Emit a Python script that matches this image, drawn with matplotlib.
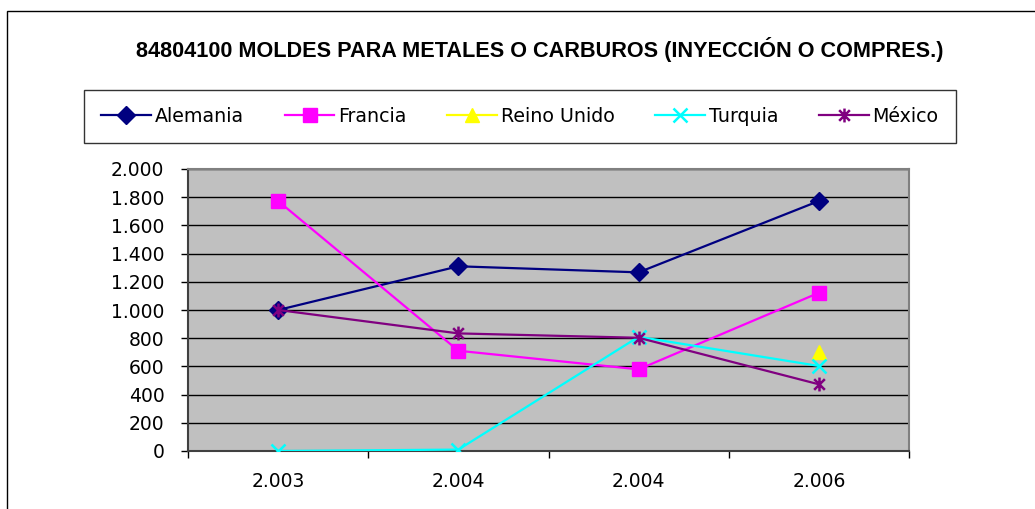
import numpy as np
import matplotlib
matplotlib.use('Agg')
import matplotlib.pyplot as plt
from matplotlib.path import Path
from matplotlib.patches import Rectangle
from matplotlib.ticker import FuncFormatter, FixedLocator

plt.rcParams["font.family"] = ["DejaVu Sans"]

# datos
categorias = ["2.003", "2.004", "2.004", "2.006"]
alemania = [1000, 1310, 1267, 1773]
francia = [1773, 711, 579, 1122]
reino_unido = [np.nan, np.nan, np.nan, 703]
turquia = [0, 10, 810, 603]
mexico = [1000, 834, 803, 473]

titulo = "84804100 MOLDES PARA METALES O CARBUROS (INYECCIÓN O COMPRES.)"

# marcador estrella tipo Excel (x con línea vertical)
star = Path([(-1, -1), (1, 1), (-1, 1), (1, -1), (0, -1.3), (0, 1.3)],
            [Path.MOVETO, Path.LINETO, Path.MOVETO, Path.LINETO, Path.MOVETO, Path.LINETO])

series = [
    ("Alemania", alemania, "#000080", "D", 9),
    ("Francia", francia, "#FF00FF", "s", 10),
    ("Reino Unido", reino_unido, "#FFFF00", "^", 10),
    ("Turquia", turquia, "#00FFFF", "x", 10),
    ("México", mexico, "#800080", star, 10),
]

W, H = 1035, 509
fig = plt.figure(figsize=(W / 100, H / 100), dpi=100)
ax = fig.add_axes([188 / W, 1 - 451 / H, (909 - 188) / W, (451 - 169) / H])
ax.set_facecolor("#C0C0C0")

x = np.arange(len(categorias))
handles = []
for nombre, vals, color, mk, ms in series:
    mew = 1.8 if mk in ("x",) or mk is star else 1
    h, = ax.plot(x, vals, color=color, lw=1.6, marker=mk, markersize=ms,
                 markerfacecolor=color, markeredgecolor=color, markeredgewidth=mew,
                 label=nombre, zorder=3)
    handles.append(h)

ax.set_xlim(-0.5, len(categorias) - 0.5)
ax.set_ylim(0, 2000)
ax.set_yticks(np.arange(0, 2001, 200))
ax.yaxis.set_major_formatter(FuncFormatter(lambda v, p: f"{int(v):,}".replace(",", ".")))
ax.yaxis.grid(True, color="black", lw=1)
ax.set_axisbelow(True)

ax.set_xticks(x)
ax.set_xticklabels(categorias)
ax.xaxis.set_minor_locator(FixedLocator(np.arange(-0.5, len(categorias), 1)))
ax.tick_params(axis="x", which="major", length=0, pad=15, labelsize=13.5)
ax.tick_params(axis="x", which="minor", length=5, width=1, direction="out")
ax.tick_params(axis="y", length=5, width=1, direction="out", labelsize=13.5, pad=12)

for s in ("top", "right"):
    ax.spines[s].set_color("#808080")
    ax.spines[s].set_linewidth(1.5)
for s in ("left", "bottom"):
    ax.spines[s].set_color("#404040")
    ax.spines[s].set_linewidth(1.5)

fig.text(540 / W, 1 - 50 / H, titulo, ha="center", va="center",
         fontsize=15.6, fontweight="bold", family="Liberation Sans")

leg = fig.legend(handles=handles, loc="center", ncol=5,
                 bbox_to_anchor=((83 + 957) / 2 / W, 1 - 116.5 / H),
                 fontsize=13.7, frameon=True, fancybox=False, edgecolor="black",
                 handlelength=2.6, handletextpad=0.2, columnspacing=2.15,
                 borderpad=0.9)
leg.get_frame().set_linewidth(1)

fig.patches.append(Rectangle((7 / W, -0.1), 1.2, 1 - 11 / H + 0.1,
                             transform=fig.transFigure, fill=False,
                             edgecolor="black", lw=1))

fig.savefig("out.png", dpi=100)
